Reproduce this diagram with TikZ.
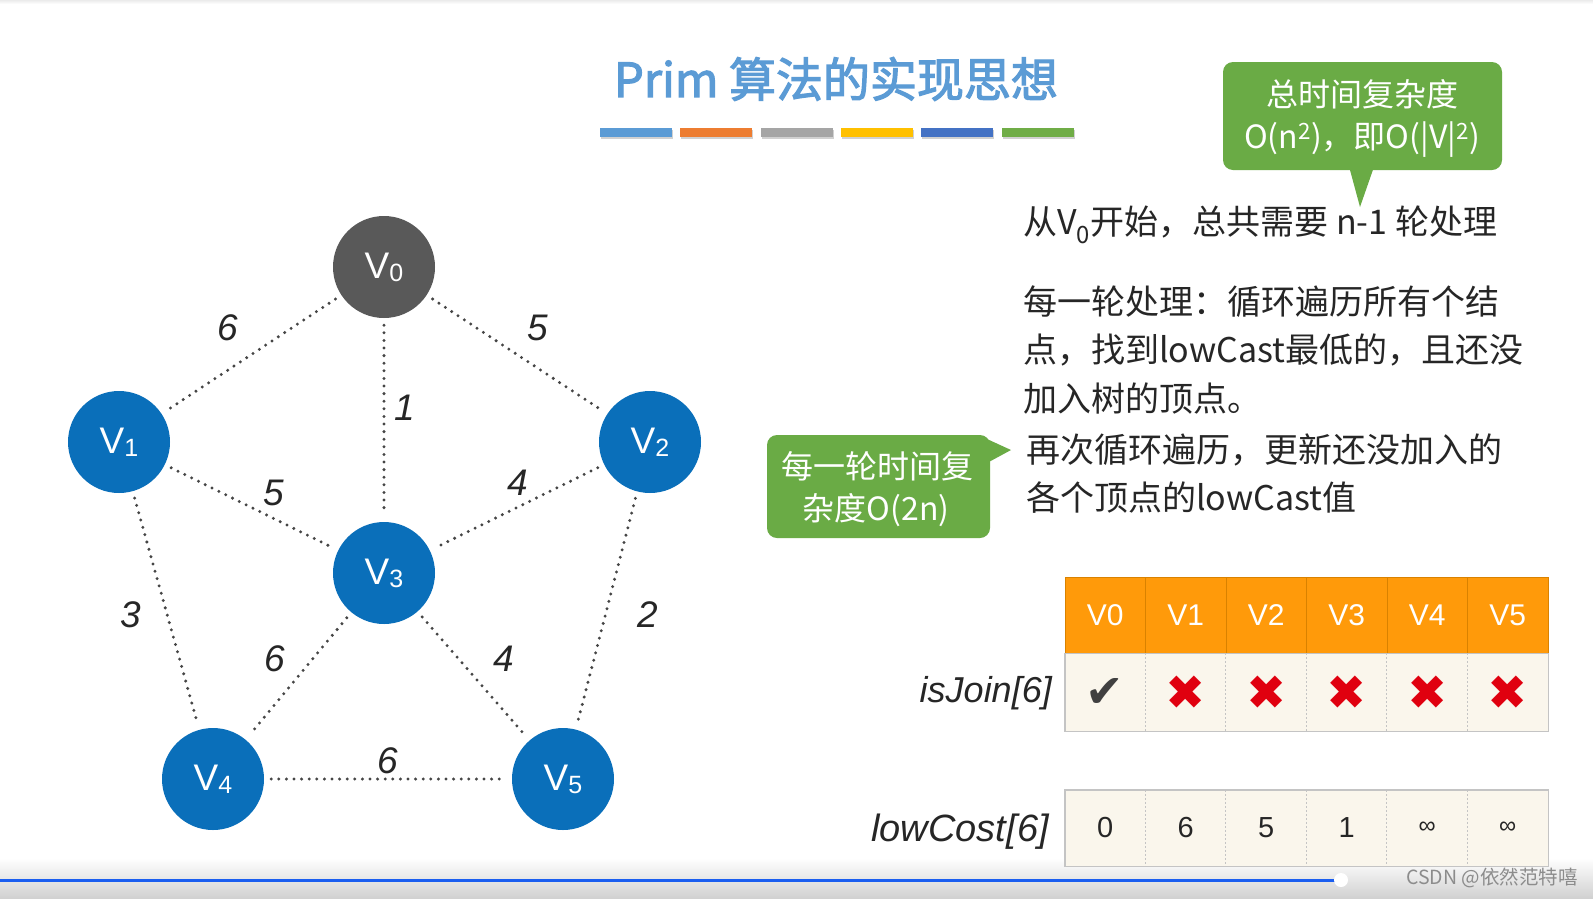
\documentclass[tikz,border=0pt]{standalone}
\usepackage{fontspec}
\setmainfont{Noto Sans CJK SC}
\newfontfamily\titlef[FakeBold=2.5]{Noto Sans CJK SC}
\newfontfamily\lat{Liberation Sans}
\newfontfamily\symf{DejaVu Sans}
\definecolor{titleblue}{HTML}{5B9BD5}
\definecolor{nodeblue}{HTML}{0A6FBA}
\definecolor{nodegray}{HTML}{595959}
\definecolor{callgreen}{HTML}{6AAB45}
\definecolor{hdrorange}{HTML}{FF9A0A}
\definecolor{hdrline}{HTML}{D98200}
\definecolor{cellbg}{HTML}{FAF6EC}
\definecolor{cellline}{HTML}{C4C4C4}
\definecolor{txt}{HTML}{262626}
\definecolor{edgegray}{HTML}{454545}
\definecolor{xred}{HTML}{E0000F}
\definecolor{barA}{HTML}{5B9BD5}
\definecolor{barB}{HTML}{ED7D31}
\definecolor{barC}{HTML}{A5A5A5}
\definecolor{barD}{HTML}{FFC000}
\definecolor{barE}{HTML}{4472C4}
\definecolor{barF}{HTML}{70AD47}
\definecolor{progblue}{HTML}{1A5EF0}
\newcommand\vsub[1]{V\raisebox{-3pt}{\fontsize{25}{25}\selectfont #1}}
\newcommand\fs[1]{\fontsize{#1}{#1}\selectfont}
\tikzset{
  vert/.style={circle, minimum size=102pt, inner sep=0pt, fill=nodeblue, text=white, font=\lat\fs{37}},
  edgeline/.style={draw=edgegray, line width=3.3pt, line cap=round, dash pattern=on 0pt off 7.6pt, shorten <=7pt, shorten >=7pt},
  wlabel/.style={font=\lat\itshape\fs{37}, text=txt, inner sep=0pt},
  bodytext/.style={anchor=west, inner sep=0pt, text=txt, font=\fs{34}},
  callbox/.style={fill=callgreen, rounded corners=10pt, text=white, align=center, inner sep=0pt, font=\fs{32}},
  hdrcell/.style={draw=hdrline, line width=0.8pt, fill=hdrorange, minimum width=80.5pt, minimum height=76pt, inner sep=0pt, text=white, font=\lat\fs{30}},
  bodycell/.style={fill=cellbg, minimum width=80.5pt, minimum height=78pt, inner sep=0pt, text=txt, font=\lat\fs{29}},
  arrlabel/.style={anchor=east, inner sep=0pt, text=txt, font=\lat\itshape\fs{37}}
}
\begin{document}
\begin{tikzpicture}[x=1pt,y=-1pt]
\useasboundingbox (0,0) rectangle (1593,898);
\fill[white] (0,0) rectangle (1593,898);
\shade[top color=black!8, bottom color=white] (0,0) rectangle (1593,4);
\shade[top color=white, bottom color=black!18] (0,858) rectangle (1593,898);

% title
\node[font=\titlef\fs{47}, text=titleblue, inner sep=0pt] (title) at (836,79) {Prim 算法的实现思想};
\foreach \c [count=\k from 0] in {barA,barB,barC,barD,barE,barF}{
  \fill[black!18] ({601+80.3*\k},130) rectangle ++(72,9);
  \fill[\c] ({600+80.3*\k},128) rectangle ++(72,9);
}

% graph
\node[vert, fill=nodegray] (v0) at (384,267) {\vsub{0}};
\node[vert] (v1) at (119,442) {\vsub{1}};
\node[vert] (v2) at (650,442) {\vsub{2}};
\node[vert] (v3) at (384,573) {\vsub{3}};
\node[vert] (v4) at (213,779) {\vsub{4}};
\node[vert] (v5) at (563,779) {\vsub{5}};
\draw[edgeline] (v0) -- (v1);
\draw[edgeline] (v0) -- (v2);
\draw[edgeline] (v0) -- (v3);
\draw[edgeline] (v1) -- (v3);
\draw[edgeline] (v2) -- (v3);
\draw[edgeline] (v1) -- (v4);
\draw[edgeline] (v2) -- (v5);
\draw[edgeline] (v3) -- (v4);
\draw[edgeline] (v3) -- (v5);
\draw[edgeline] (v4) -- (v5);
\node[wlabel] (w01) at (228,328) {6};
\node[wlabel] (w02) at (538,328) {5};
\node[wlabel] (w03) at (405,408) {1};
\node[wlabel] (w13) at (274,493) {5};
\node[wlabel] (w23) at (518,483) {4};
\node[wlabel] (w14) at (131,615) {3};
\node[wlabel] (w25) at (648,615) {2};
\node[wlabel] (w34) at (275,659) {6};
\node[wlabel] (w35) at (504,659) {4};
\node[wlabel] (w45) at (388,761) {6};

% top callout
\node[callbox, minimum width=279pt, minimum height=108pt] (c1) at (1362.5,116) {};
\node[text=white, font=\fs{32}, inner sep=0pt] (c1a) at (1362,94) {总时间复杂度};
\node[text=white, font=\fs{32}, inner sep=0pt] (c1b) at (1362,140) {O(n\textsuperscript{2})，即O(|V|\textsuperscript{2})};
\coordinate (c1tip) at (1360,207);
\fill[callgreen] ([xshift=-13pt,yshift=2pt]c1.south) -- (c1tip) -- ([xshift=11pt,yshift=2pt]c1.south) -- cycle;

% body text
\node[bodytext] (t1) at (1023,225) {从V\textsubscript{0}开始，总共需要 n-1 轮处理};
\node[bodytext] (t2) at (1023,302) {每一轮处理：循环遍历所有个结};
\node[bodytext] (t3) at (1023,350) {点，找到lowCast最低的，且还没};
\node[bodytext] (t4) at (1023,399) {加入树的顶点。};
\node[bodytext] (t5) at (1026,450) {再次循环遍历，更新还没加入的};
\node[bodytext] (t6) at (1026,498) {各个顶点的lowCast值};

% left callout
\node[callbox, minimum width=223pt, minimum height=103pt] (c2) at (878.5,486.5) {};
\node[text=white, font=\fs{32}, inner sep=0pt] (c2a) at (877,466) {每一轮时间复};
\node[text=white, font=\fs{32}, inner sep=0pt] (c2b) at (876,510) {杂度O(2n)};
\coordinate (c2tip) at (1011,450);
\fill[callgreen] ([xshift=-8pt,yshift=-2pt]c2.north east) -- (c2tip) -- ([xshift=-1pt,yshift=-27pt]c2.north east) -- cycle;

% table
\foreach \i/\lab/\val in {0/V0/0,1/V1/6,2/V2/5,3/V3/1,4/V4/\fs{24}∞,5/V5/\fs{24}∞}{
  \node[hdrcell] (h\i) at ({1105.25+80.5*\i},615) {\lab};
  \node[bodycell] (j\i) at ({1105.25+80.5*\i},692.5) {};
  \node[bodycell, minimum height=76pt] (k\i) at ({1105.25+80.5*\i},828) {\val};
}
\node[font=\symf\fs{46}, text=black!75, inner sep=0pt] (ck0) at (j0) {✔};
\foreach \i in {1,...,5}{
  \node[font=\symf\fs{48}, text=xred, inner sep=0pt] (ck\i) at (j\i) {✖};
}
\foreach \i in {1,...,5}{
  \draw[cellline, line width=0.9pt, dash pattern=on 2pt off 2pt] (j\i.north west) -- (j\i.south west);
  \draw[cellline, line width=0.9pt, dash pattern=on 2pt off 2pt] (k\i.north west) -- (k\i.south west);
}
\draw[cellline, line width=1.4pt] (j0.north west) rectangle (j5.south east);
\draw[cellline, line width=1.4pt] (k0.north west) rectangle (k5.south east);
\node[arrlabel] (lj) at (1052,693) {\fs{36}isJoin[6]};
\node[arrlabel] (lk) at (1049,832) {\fs{38}lowCost[6]};

% video bar
\draw[progblue, line width=3pt] (0,880) -- (1336,880);
\fill[white] (1341,880) circle (7);
\node[anchor=east, inner sep=0pt, text=black!45, font=\fs{19.5}] (wm) at (1578,878) {CSDN @依然范特嘻};
\end{tikzpicture}
\end{document}
